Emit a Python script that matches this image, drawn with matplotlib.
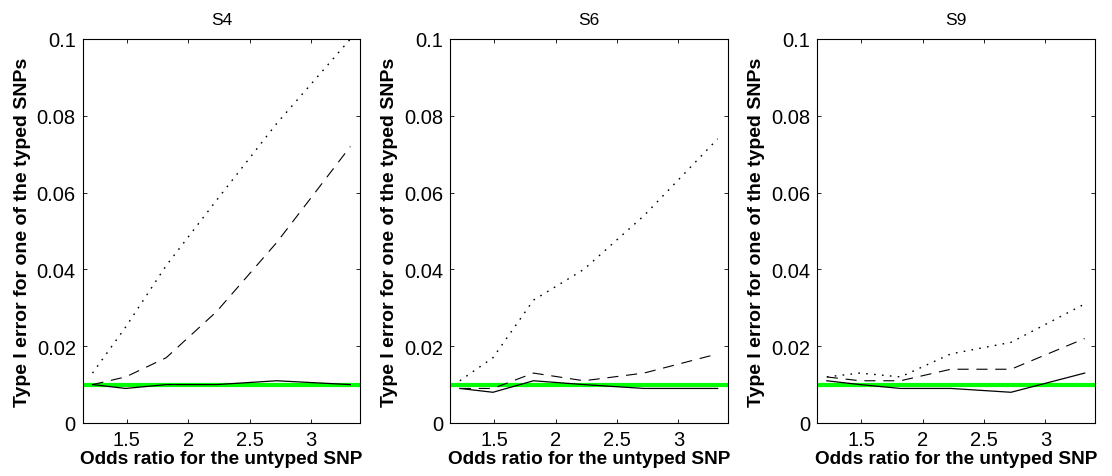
import matplotlib
matplotlib.use("Agg")
import matplotlib.pyplot as plt

plt.rcParams['font.family'] = ['Liberation Sans', 'DejaVu Sans']

odds = [1.22, 1.49, 1.82, 2.23, 2.72, 3.32]
titles = ["S4", "S6", "S9"]

solid = [
    [0.010, 0.009, 0.010, 0.010, 0.011, 0.010],
    [0.009, 0.008, 0.011, 0.010, 0.009, 0.009],
    [0.011, 0.010, 0.009, 0.009, 0.008, 0.013],
]
dashed = [
    [0.010, 0.012, 0.017, 0.029, 0.047, 0.072],
    [0.009, 0.009, 0.013, 0.011, 0.013, 0.018],
    [0.012, 0.011, 0.011, 0.014, 0.014, 0.022],
]
dotted = [
    [0.013, 0.025, 0.041, 0.058, 0.078, 0.100],
    [0.011, 0.017, 0.032, 0.040, 0.054, 0.074],
    [0.012, 0.013, 0.012, 0.018, 0.021, 0.031],
]
nominal = 0.01

yticks = [0, 0.02, 0.04, 0.06, 0.08, 0.1]
ytick_labels = ["0", "0.02", "0.04", "0.06", "0.08", "0.1"]
xticks = [1.5, 2, 2.5, 3]
xtick_labels = ["1.5", "2", "2.5", "3"]

W, H = 1112, 477
fig = plt.figure(figsize=(W / 100, H / 100), dpi=100)

lefts = [82.7, 450, 817]
ax_w = 277.5
top, bottom = 40, 424

for i in range(3):
    ax = fig.add_axes([lefts[i] / W, 1 - bottom / H, ax_w / W, (bottom - top) / H])
    ax.axhline(nominal, color="#00ff00", lw=3, zorder=1)
    ax.plot(odds, solid[i], color="black", lw=0.9, ls="-", zorder=2)
    ax.plot(odds, dashed[i], color="black", lw=0.8, ls=(0, (10, 7)), zorder=2)
    ax.plot(odds, dotted[i], color="black", lw=1.0, ls=(0, (1.2, 4.5)), zorder=2)
    ax.set_xlim(1.14, 3.40)
    ax.set_ylim(0, 0.1)
    ax.set_xticks(xticks)
    ax.set_xticklabels(xtick_labels)
    ax.set_yticks(yticks)
    ax.set_yticklabels(ytick_labels)
    ax.tick_params(direction="in", top=True, right=True, length=3, width=0.6,
                   labelsize=14.5, pad=5)
    for s in ax.spines.values():
        s.set_linewidth(0.8)
    ax.set_title(titles[i], fontsize=12.5, pad=11)
    ax.set_xlabel("Odds ratio for the untyped SNP", fontsize=13.7, fontweight="bold",
                  labelpad=1)
    ax.set_ylabel("Type I error for one of the typed SNPs", fontsize=14,
                  fontweight="bold", labelpad=4)

fig.savefig("out.png", dpi=100)
